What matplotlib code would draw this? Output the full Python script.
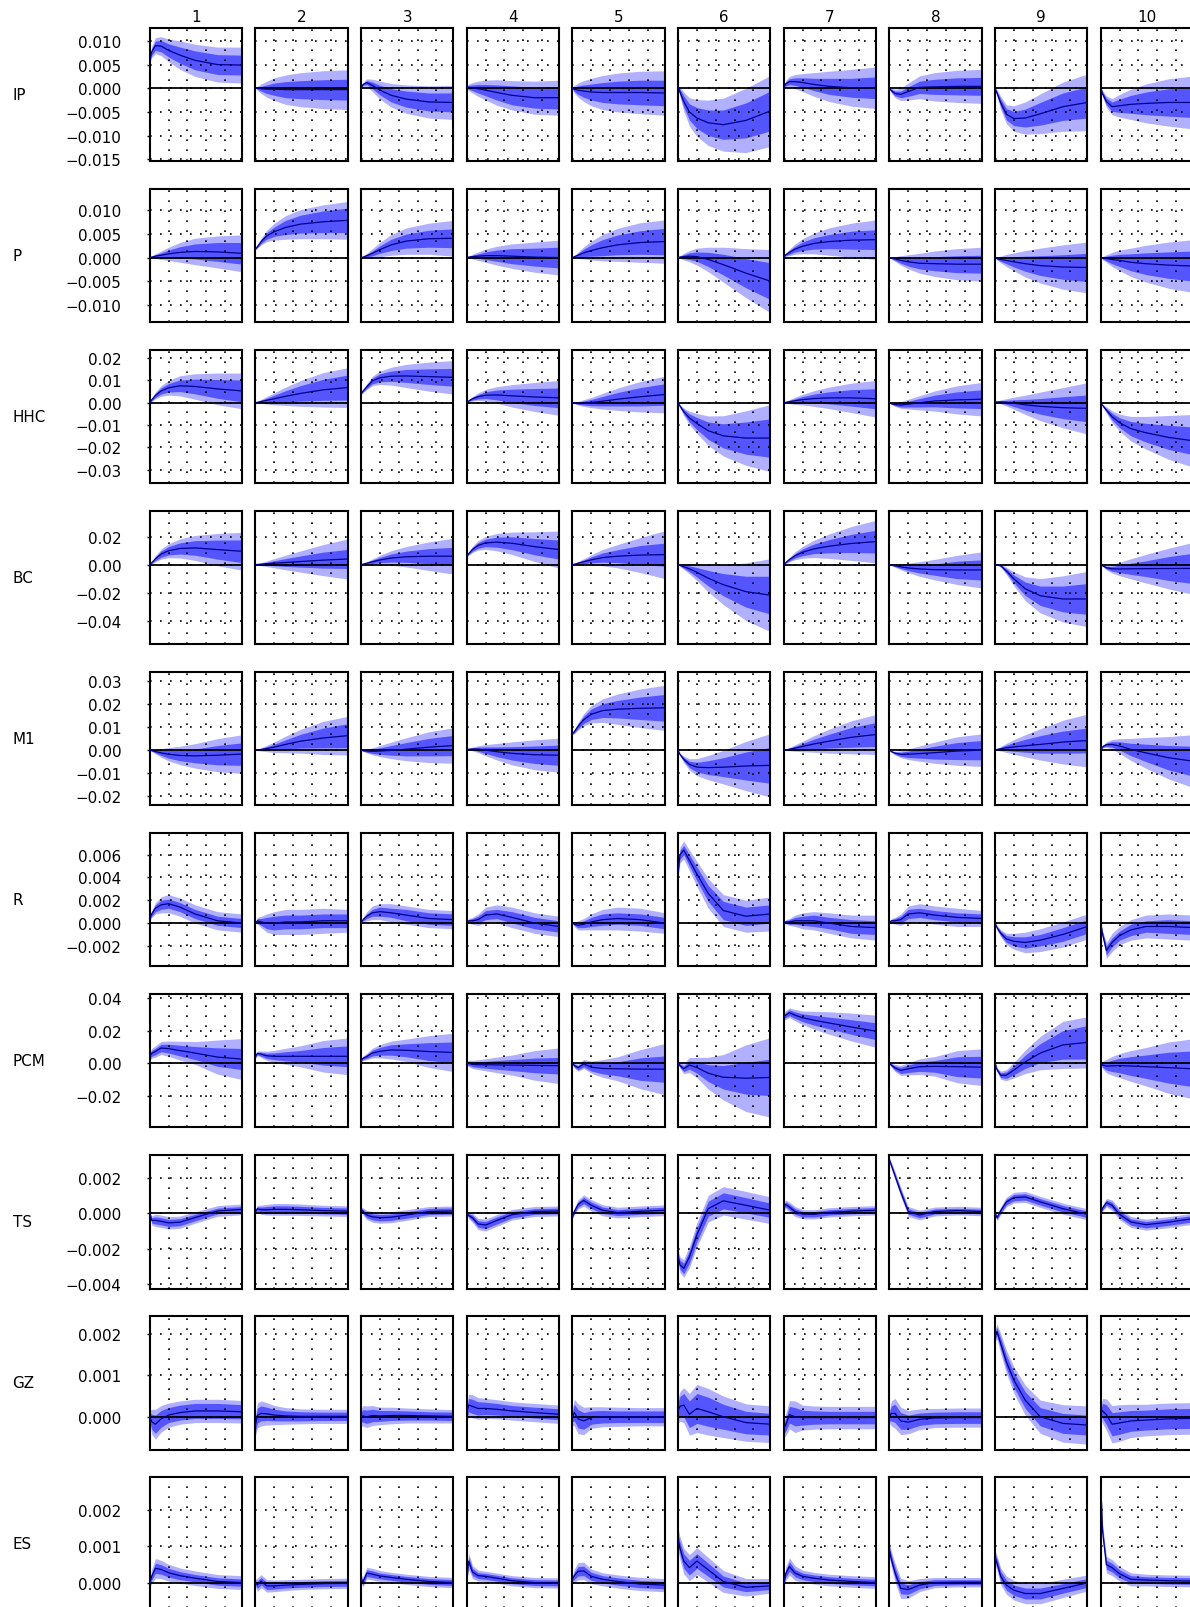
import matplotlib
matplotlib.use('Agg')
import matplotlib.pyplot as plt

HORIZON = [0, 1, 3, 6, 10, 16, 24, 36, 49]
SHOCKS = ['1', '2', '3', '4', '5', '6', '7', '8', '9', '10']
VARIABLES = ['IP', 'P', 'HHC', 'BC', 'M1', 'R', 'PCM', 'TS', 'GZ', 'ES']

# ---- IP ----
IP_MED = [
    [0.0059, 0.0077, 0.009, 0.0089, 0.008, 0.007, 0.0059, 0.005, 0.0049],
    [0, 0, -0.0001, -0.0002, -0.0002, -0.0003, -0.0003, -0.0003, -0.0003],
    [0, 0.0008, 0.0012, 0.0006, -0.0004, -0.0015, -0.0023, -0.0029, -0.003],
    [0.0002, 0.0002, 0.0001, -0.0001, -0.0004, -0.0009, -0.0015, -0.002, -0.002],
    [0, -0.0002, -0.0004, -0.0006, -0.0008, -0.0009, -0.0009, -0.0009, -0.001],
    [0.0002, -0.0008, -0.0028, -0.005, -0.0063, -0.0073, -0.0077, -0.0068, -0.0048],
    [0.0003, 0.0009, 0.0014, 0.0014, 0.0012, 0.0008, 0.0004, 0.0001, 0.0001],
    [0, -0.0005, -0.0011, -0.0013, -0.0007, 0.0002, 0.0003, 0.0004, 0.0004],
    [0, -0.001, -0.0031, -0.0055, -0.0064, -0.0063, -0.0054, -0.0039, -0.003],
    [0, -0.0012, -0.0028, -0.0039, -0.0037, -0.0034, -0.0032, -0.003, -0.003],
]
IP_W68 = [
    [0.0003, 0.0007, 0.001, 0.0012, 0.0014, 0.0017, 0.002, 0.0021, 0.0021],
    [0, 0.0002, 0.0005, 0.0009, 0.0013, 0.0017, 0.0019, 0.0021, 0.0022],
    [0, 0.0002, 0.0004, 0.0007, 0.001, 0.0014, 0.0017, 0.0019, 0.002],
    [0.0002, 0.0004, 0.0006, 0.0009, 0.0012, 0.0016, 0.002, 0.0022, 0.0024],
    [0.0001, 0.0005, 0.0009, 0.0013, 0.0017, 0.0021, 0.0024, 0.0026, 0.0027],
    [0.0002, 0.0006, 0.0012, 0.0017, 0.0022, 0.0027, 0.0031, 0.0037, 0.0042],
    [0.0002, 0.0004, 0.0006, 0.0008, 0.001, 0.0013, 0.0017, 0.002, 0.0023],
    [0.0001, 0.0003, 0.0005, 0.0007, 0.001, 0.0013, 0.0016, 0.0018, 0.0019],
    [0.0001, 0.0004, 0.0008, 0.0012, 0.0015, 0.0019, 0.0024, 0.0029, 0.0033],
    [0.0001, 0.0004, 0.0007, 0.001, 0.0014, 0.0019, 0.0024, 0.0029, 0.0032],
]
IP_W90 = [
    [0.0005, 0.0012, 0.0017, 0.002, 0.0024, 0.003, 0.0034, 0.0037, 0.0038],
    [0, 0.0004, 0.001, 0.0017, 0.0024, 0.0031, 0.0036, 0.004, 0.0042],
    [0, 0.0004, 0.0008, 0.0013, 0.0019, 0.0025, 0.003, 0.0034, 0.0036],
    [0.0003, 0.0007, 0.0011, 0.0016, 0.0021, 0.0027, 0.0031, 0.0035, 0.0037],
    [0.0002, 0.0008, 0.0015, 0.0022, 0.0029, 0.0036, 0.0041, 0.0045, 0.0047],
    [0.0003, 0.001, 0.002, 0.003, 0.0039, 0.0048, 0.0056, 0.0068, 0.0075],
    [0.0003, 0.0007, 0.0011, 0.0015, 0.0019, 0.0025, 0.0032, 0.0039, 0.0044],
    [0.0002, 0.0005, 0.0009, 0.0013, 0.0018, 0.0024, 0.003, 0.0034, 0.0036],
    [0.0002, 0.0007, 0.0014, 0.002, 0.0027, 0.0034, 0.0042, 0.0052, 0.006],
    [0.0002, 0.0007, 0.0012, 0.0017, 0.0024, 0.0032, 0.0041, 0.005, 0.0056],
]

# ---- P ----
P_MED = [
    [0, 0.0001, 0.0003, 0.0005, 0.0008, 0.0011, 0.0013, 0.0012, 0.0009],
    [0.0018, 0.0023, 0.0034, 0.0046, 0.0055, 0.0064, 0.0071, 0.0076, 0.0079],
    [0, 0.0001, 0.0004, 0.0009, 0.0017, 0.0027, 0.0035, 0.004, 0.0041],
    [0, 0.0001, 0.0002, 0.0003, 0.0004, 0.0004, 0.0003, 0.0001, 0],
    [0, 0.0002, 0.0005, 0.001, 0.0015, 0.0021, 0.0027, 0.0032, 0.0034],
    [0, 0.0001, 0.0002, 0.0003, 0.0002, -0.0004, -0.0015, -0.0033, -0.005],
    [0, 0.0006, 0.0011, 0.0018, 0.0024, 0.003, 0.0034, 0.0037, 0.0038],
    [0, -0.0001, -0.0003, -0.0006, -0.0009, -0.0012, -0.0013, -0.0014, -0.0014],
    [0, -0.0002, -0.0004, -0.0006, -0.0009, -0.0013, -0.0017, -0.002, -0.0021],
    [0, -0.0001, -0.0002, -0.0004, -0.0006, -0.001, -0.0013, -0.0016, -0.0018],
]
P_W68 = [
    [0, 0.0001, 0.0003, 0.0005, 0.0008, 0.0012, 0.0016, 0.002, 0.0023],
    [0.0001, 0.0002, 0.0004, 0.0007, 0.001, 0.0015, 0.0019, 0.0023, 0.0026],
    [0, 0.0001, 0.0003, 0.0005, 0.0008, 0.0012, 0.0015, 0.0018, 0.002],
    [0, 0.0001, 0.0003, 0.0005, 0.0008, 0.0012, 0.0016, 0.0019, 0.0022],
    [0, 0.0001, 0.0004, 0.0008, 0.0012, 0.0017, 0.0021, 0.0025, 0.0028],
    [0, 0.0002, 0.0004, 0.0007, 0.001, 0.0015, 0.0022, 0.0031, 0.0039],
    [0, 0.0002, 0.0004, 0.0006, 0.0009, 0.0012, 0.0015, 0.0019, 0.0021],
    [0, 0.0001, 0.0003, 0.0006, 0.0009, 0.0012, 0.0015, 0.0018, 0.0019],
    [0, 0.0002, 0.0004, 0.0007, 0.0011, 0.0016, 0.0021, 0.0026, 0.003],
    [0, 0.0002, 0.0005, 0.0009, 0.0013, 0.0018, 0.0023, 0.0028, 0.0032],
]
P_W90 = [
    [0, 0.0002, 0.0005, 0.0009, 0.0014, 0.0021, 0.0028, 0.0034, 0.0039],
    [0.0001, 0.0003, 0.0007, 0.0012, 0.0018, 0.0025, 0.0031, 0.0036, 0.004],
    [0, 0.0002, 0.0005, 0.001, 0.0015, 0.0022, 0.0028, 0.0033, 0.0038],
    [0, 0.0002, 0.0005, 0.0009, 0.0014, 0.002, 0.0026, 0.0032, 0.0037],
    [0, 0.0002, 0.0007, 0.0013, 0.002, 0.0028, 0.0035, 0.0042, 0.0046],
    [0, 0.0003, 0.0007, 0.0012, 0.0018, 0.0026, 0.0037, 0.0052, 0.0067],
    [0, 0.0003, 0.0007, 0.0011, 0.0016, 0.0022, 0.0029, 0.0036, 0.0042],
    [0, 0.0002, 0.0005, 0.001, 0.0015, 0.0021, 0.0027, 0.0033, 0.0036],
    [0, 0.0003, 0.0007, 0.0013, 0.0019, 0.0028, 0.0037, 0.0047, 0.0054],
    [0, 0.0003, 0.0008, 0.0015, 0.0022, 0.003, 0.0039, 0.0049, 0.0056],
]

# ---- HHC ----
HHC_MED = [
    [0, 0.0013, 0.0033, 0.0053, 0.0067, 0.0076, 0.0073, 0.0062, 0.0053],
    [0, 0.0002, 0.0006, 0.0011, 0.0018, 0.0029, 0.0042, 0.0058, 0.0068],
    [0.004, 0.0052, 0.0072, 0.0098, 0.0112, 0.0119, 0.012, 0.0117, 0.0114],
    [0, 0.0008, 0.0018, 0.0027, 0.0034, 0.0035, 0.0031, 0.0026, 0.0022],
    [0, -0.0001, -0.0002, -0.0001, 0.0001, 0.0007, 0.0016, 0.0027, 0.0037],
    [0, -0.0015, -0.004, -0.0068, -0.0093, -0.0125, -0.0148, -0.0158, -0.0158],
    [0, 0.0002, 0.0005, 0.0009, 0.0014, 0.0019, 0.0022, 0.0022, 0.0018],
    [0, -0.0004, -0.0008, -0.001, -0.0006, 0, 0.0008, 0.0013, 0.0016],
    [0.0003, 0.0004, 0.0004, 0.0002, -0.0002, -0.0009, -0.0016, -0.0022, -0.0025],
    [0, -0.0012, -0.0033, -0.0062, -0.0089, -0.0116, -0.0134, -0.0155, -0.017],
]
HHC_W68 = [
    [0, 0.0004, 0.0009, 0.0014, 0.0019, 0.0026, 0.0033, 0.0042, 0.0049],
    [0, 0.0002, 0.0005, 0.001, 0.0016, 0.0025, 0.0035, 0.0047, 0.0056],
    [0.0002, 0.0004, 0.0008, 0.0013, 0.0018, 0.0023, 0.0029, 0.0035, 0.004],
    [0, 0.0002, 0.0006, 0.001, 0.0015, 0.0022, 0.003, 0.0038, 0.0044],
    [0, 0.0002, 0.0005, 0.0009, 0.0014, 0.0021, 0.003, 0.0041, 0.0048],
    [0, 0.0004, 0.001, 0.0018, 0.0027, 0.0039, 0.0054, 0.0072, 0.0086],
    [0, 0.0002, 0.0005, 0.0009, 0.0014, 0.002, 0.0027, 0.0037, 0.0045],
    [0, 0.0002, 0.0005, 0.0009, 0.0013, 0.0019, 0.0026, 0.0036, 0.0042],
    [0.0001, 0.0002, 0.0005, 0.0009, 0.0015, 0.0024, 0.0035, 0.0049, 0.006],
    [0, 0.0003, 0.0008, 0.0015, 0.0022, 0.0032, 0.0042, 0.0054, 0.0062],
]
HHC_W90 = [
    [0, 0.0007, 0.0015, 0.0024, 0.0033, 0.0045, 0.0057, 0.0071, 0.008],
    [0, 0.0003, 0.0009, 0.0017, 0.0027, 0.0041, 0.0058, 0.0077, 0.0089],
    [0.0003, 0.0007, 0.0013, 0.0021, 0.003, 0.004, 0.0052, 0.0065, 0.0075],
    [0, 0.0004, 0.001, 0.0017, 0.0026, 0.0037, 0.005, 0.0065, 0.0078],
    [0, 0.0003, 0.0008, 0.0015, 0.0023, 0.0035, 0.005, 0.0068, 0.0082],
    [0, 0.0007, 0.0017, 0.003, 0.0045, 0.0066, 0.009, 0.0122, 0.015],
    [0, 0.0003, 0.0009, 0.0016, 0.0024, 0.0035, 0.0048, 0.0066, 0.0082],
    [0, 0.0003, 0.0008, 0.0015, 0.0022, 0.0032, 0.0045, 0.0063, 0.0075],
    [0.0002, 0.0004, 0.0009, 0.0016, 0.0027, 0.0043, 0.0064, 0.009, 0.0115],
    [0, 0.0005, 0.0014, 0.0026, 0.0038, 0.0055, 0.0073, 0.0098, 0.0118],
]

# ---- BC ----
BC_MED = [
    [0, 0.0013, 0.0042, 0.0075, 0.0099, 0.0115, 0.0119, 0.0107, 0.0095],
    [0, 0.0001, 0.0003, 0.0006, 0.001, 0.0015, 0.0022, 0.0032, 0.004],
    [0, 0.0003, 0.001, 0.002, 0.0033, 0.0047, 0.0056, 0.006, 0.006],
    [0.006, 0.0078, 0.0108, 0.0137, 0.0155, 0.016, 0.0152, 0.0128, 0.0107],
    [0, 0.0003, 0.001, 0.002, 0.0034, 0.005, 0.006, 0.0068, 0.0071],
    [0, -0.0005, -0.0015, -0.003, -0.0055, -0.0097, -0.0143, -0.0193, -0.0218],
    [0, 0.0014, 0.0036, 0.0063, 0.0088, 0.0112, 0.0131, 0.0151, 0.0164],
    [0, -0.0003, -0.0008, -0.0016, -0.0024, -0.0031, -0.0036, -0.0038, -0.0038],
    [0, 0, -0.0008, -0.0045, -0.0102, -0.0172, -0.0222, -0.0245, -0.0245],
    [0, -0.0008, -0.0022, -0.003, -0.0031, -0.003, -0.0029, -0.0028, -0.0027],
]
BC_W68 = [
    [0, 0.0005, 0.0013, 0.0022, 0.003, 0.004, 0.0052, 0.0068, 0.0081],
    [0, 0.0002, 0.0006, 0.0011, 0.0018, 0.0028, 0.004, 0.0057, 0.0068],
    [0, 0.0002, 0.0006, 0.0012, 0.0019, 0.0029, 0.004, 0.0054, 0.0063],
    [0.0003, 0.0007, 0.0013, 0.002, 0.0027, 0.0036, 0.0046, 0.0058, 0.0068],
    [0, 0.0002, 0.0007, 0.0013, 0.0021, 0.0033, 0.0046, 0.0068, 0.0082],
    [0, 0.0004, 0.0011, 0.0021, 0.0034, 0.0055, 0.0079, 0.011, 0.0135],
    [0, 0.0004, 0.0009, 0.0016, 0.0024, 0.0034, 0.0047, 0.0065, 0.0081],
    [0, 0.0002, 0.0006, 0.0012, 0.0019, 0.0029, 0.004, 0.0062, 0.0072],
    [0, 0.0002, 0.0006, 0.0015, 0.0028, 0.0048, 0.0069, 0.0092, 0.011],
    [0, 0.0003, 0.0009, 0.0017, 0.0027, 0.004, 0.0056, 0.0085, 0.0108],
]
BC_W90 = [
    [0, 0.0008, 0.0022, 0.0036, 0.005, 0.0068, 0.0089, 0.0115, 0.0135],
    [0, 0.0004, 0.0011, 0.002, 0.0033, 0.0052, 0.0076, 0.0111, 0.0143],
    [0, 0.0004, 0.0011, 0.0021, 0.0034, 0.0052, 0.0073, 0.0102, 0.0128],
    [0.0005, 0.0012, 0.0022, 0.0034, 0.0046, 0.0062, 0.008, 0.0106, 0.0132],
    [0, 0.0004, 0.0012, 0.0022, 0.0036, 0.0058, 0.0083, 0.0125, 0.017],
    [0, 0.0007, 0.0019, 0.0036, 0.006, 0.0098, 0.0142, 0.0205, 0.026],
    [0, 0.0007, 0.0016, 0.0028, 0.0042, 0.0062, 0.0087, 0.0121, 0.0152],
    [0, 0.0004, 0.0011, 0.0021, 0.0034, 0.0052, 0.0073, 0.0104, 0.0129],
    [0, 0.0003, 0.001, 0.0026, 0.005, 0.0085, 0.0122, 0.0165, 0.0197],
    [0, 0.0005, 0.0016, 0.003, 0.0048, 0.0072, 0.0102, 0.0145, 0.0185],
]

# ---- M1 ----
M1_MED = [
    [0, -0.0002, -0.0006, -0.0012, -0.0018, -0.0023, -0.0025, -0.0022, -0.0017],
    [0, 0.0001, 0.0003, 0.0007, 0.0013, 0.0025, 0.0039, 0.0053, 0.0063],
    [0, -0.0002, -0.0004, -0.0005, -0.0004, -0.0001, 0.0004, 0.0013, 0.002],
    [0, 0.0004, 0.0005, 0.0004, 0, -0.0007, -0.0014, -0.002, -0.0022],
    [0.0072, 0.008, 0.0104, 0.0132, 0.0156, 0.0172, 0.0178, 0.0182, 0.0184],
    [0, -0.0019, -0.004, -0.0062, -0.0074, -0.0076, -0.0074, -0.0069, -0.0066],
    [0, 0.0001, 0.0004, 0.0009, 0.0016, 0.0027, 0.0039, 0.0056, 0.0068],
    [0, -0.0006, -0.0013, -0.0018, -0.0018, -0.0015, -0.0011, -0.0004, 0],
    [0, 0.0003, 0.0006, 0.001, 0.0014, 0.0019, 0.0025, 0.0035, 0.0042],
    [0, 0.0015, 0.0024, 0.0025, 0.0018, 0.0003, -0.0012, -0.0033, -0.0048],
]
M1_W68 = [
    [0, 0.0002, 0.0006, 0.0011, 0.0017, 0.0023, 0.003, 0.0042, 0.0049],
    [0, 0.0002, 0.0004, 0.0008, 0.0013, 0.002, 0.003, 0.0043, 0.0052],
    [0, 0.0002, 0.0005, 0.0009, 0.0014, 0.0021, 0.0029, 0.0038, 0.0044],
    [0, 0.0002, 0.0005, 0.0009, 0.0014, 0.0021, 0.0029, 0.0038, 0.0044],
    [0.0002, 0.0005, 0.001, 0.0016, 0.0023, 0.003, 0.0038, 0.0049, 0.0058],
    [0, 0.0003, 0.0008, 0.0014, 0.0021, 0.003, 0.0041, 0.0061, 0.0078],
    [0, 0.0002, 0.0004, 0.0008, 0.0013, 0.0021, 0.003, 0.0043, 0.0052],
    [0, 0.0002, 0.0005, 0.0009, 0.0014, 0.002, 0.0028, 0.0037, 0.0042],
    [0, 0.0002, 0.0006, 0.0012, 0.0019, 0.0028, 0.0038, 0.0048, 0.0054],
    [0, 0.0003, 0.0007, 0.0012, 0.0018, 0.0027, 0.0038, 0.0053, 0.0065],
]
M1_W90 = [
    [0, 0.0004, 0.001, 0.0019, 0.0029, 0.004, 0.0053, 0.0072, 0.0084],
    [0, 0.0003, 0.0007, 0.0014, 0.0023, 0.0036, 0.0052, 0.0072, 0.0084],
    [0, 0.0003, 0.0008, 0.0015, 0.0024, 0.0036, 0.005, 0.0067, 0.0077],
    [0, 0.0003, 0.0008, 0.0015, 0.0024, 0.0036, 0.005, 0.0065, 0.0074],
    [0.0004, 0.0009, 0.0017, 0.0027, 0.0038, 0.0051, 0.0066, 0.0084, 0.0098],
    [0, 0.0005, 0.0014, 0.0025, 0.0037, 0.0053, 0.0073, 0.0107, 0.0138],
    [0, 0.0003, 0.0007, 0.0014, 0.0023, 0.0036, 0.0052, 0.0072, 0.0087],
    [0, 0.0003, 0.0008, 0.0015, 0.0023, 0.0033, 0.0046, 0.0062, 0.0071],
    [0, 0.0004, 0.001, 0.002, 0.0032, 0.0048, 0.0068, 0.0095, 0.0115],
    [0, 0.0005, 0.0012, 0.0021, 0.0032, 0.0048, 0.0067, 0.0092, 0.0115],
]

# ---- R ----
R_MED = [
    [0.0004, 0.0008, 0.0013, 0.0016, 0.0017, 0.0014, 0.0008, 0.0002, 0],
    [0, 0.0002, 0.0001, 0, 0, 0.0001, 0.0001, 0.0002, 0.0002],
    [0, 0.0003, 0.0006, 0.0009, 0.001, 0.0009, 0.0007, 0.0004, 0.0003],
    [0, 0.0002, 0.0002, 0.0003, 0.0007, 0.0008, 0.0005, 0, -0.0003],
    [0, -0.0001, -0.0002, -0.0001, 0.0001, 0.0003, 0.0004, 0.0003, 0],
    [0.0045, 0.006, 0.0064, 0.0055, 0.0043, 0.0026, 0.0011, 0.0006, 0.0008],
    [0, 0.0001, 0.0001, 0.0002, 0.0002, 0.0002, 0, -0.0003, -0.0004],
    [0, 0.0002, 0.0002, 0.0003, 0.0008, 0.0009, 0.0007, 0.0005, 0.0004],
    [0, -0.0004, -0.0009, -0.0014, -0.0016, -0.0017, -0.0015, -0.001, -0.0003],
    [0, -0.001, -0.0024, -0.0017, -0.0011, -0.0006, -0.0003, -0.0003, -0.0004],
]
R_W68 = [
    [0.0001, 0.0002, 0.0003, 0.0004, 0.0004, 0.0004, 0.0004, 0.0004, 0.0004],
    [0, 0.0002, 0.0003, 0.0005, 0.0006, 0.0006, 0.0006, 0.0006, 0.0006],
    [0, 0.0001, 0.0002, 0.0003, 0.0004, 0.0004, 0.0005, 0.0005, 0.0005],
    [0, 0.0001, 0.0002, 0.0003, 0.0004, 0.0004, 0.0005, 0.0005, 0.0005],
    [0, 0.0001, 0.0002, 0.0003, 0.0004, 0.0005, 0.0005, 0.0005, 0.0005],
    [0.0003, 0.0004, 0.0004, 0.0005, 0.0006, 0.0007, 0.0008, 0.0008, 0.0008],
    [0, 0.0001, 0.0002, 0.0003, 0.0004, 0.0005, 0.0005, 0.0006, 0.0006],
    [0, 0.0001, 0.0002, 0.0003, 0.0004, 0.0004, 0.0004, 0.0004, 0.0004],
    [0, 0.0001, 0.0002, 0.0003, 0.0004, 0.0005, 0.0005, 0.0006, 0.0006],
    [0, 0.0002, 0.0004, 0.0004, 0.0004, 0.0005, 0.0005, 0.0006, 0.0006],
]
R_W90 = [
    [0.0002, 0.0003, 0.0005, 0.0007, 0.0008, 0.0008, 0.0008, 0.0008, 0.0008],
    [0, 0.0003, 0.0005, 0.0008, 0.001, 0.0011, 0.0011, 0.0011, 0.001],
    [0, 0.0002, 0.0004, 0.0006, 0.0007, 0.0008, 0.0008, 0.0008, 0.0008],
    [0, 0.0002, 0.0003, 0.0005, 0.0007, 0.0008, 0.0009, 0.0009, 0.0009],
    [0, 0.0002, 0.0004, 0.0005, 0.0007, 0.0009, 0.001, 0.001, 0.0009],
    [0.0005, 0.0007, 0.0008, 0.0009, 0.0011, 0.0013, 0.0014, 0.0014, 0.0015],
    [0, 0.0002, 0.0003, 0.0005, 0.0007, 0.0008, 0.0009, 0.001, 0.0011],
    [0, 0.0002, 0.0003, 0.0005, 0.0007, 0.0008, 0.0008, 0.0008, 0.0007],
    [0, 0.0002, 0.0003, 0.0005, 0.0007, 0.0009, 0.001, 0.0011, 0.0011],
    [0, 0.0003, 0.0007, 0.0008, 0.0008, 0.0009, 0.001, 0.0011, 0.0011],
]

# ---- PCM ----
PCM_MED = [
    [0.0042, 0.006, 0.0072, 0.0093, 0.0089, 0.0077, 0.0062, 0.0037, 0.0025],
    [0.004, 0.006, 0.0055, 0.0045, 0.0042, 0.0042, 0.0042, 0.0042, 0.0042],
    [0.0015, 0.003, 0.0041, 0.0062, 0.0073, 0.0081, 0.0079, 0.0071, 0.0066],
    [0, -0.0002, -0.0008, -0.001, -0.001, -0.0011, -0.0012, -0.0014, -0.0016],
    [0, -0.0015, -0.0028, -0.0005, -0.0025, -0.0033, -0.0035, -0.0037, -0.0037],
    [0, -0.0015, -0.0035, -0.0012, -0.0027, -0.0062, -0.0087, -0.0093, -0.0088],
    [0.0285, 0.0295, 0.031, 0.0295, 0.0279, 0.0264, 0.0247, 0.0222, 0.0196],
    [0, -0.0012, -0.003, -0.0045, -0.0035, -0.0022, -0.002, -0.0022, -0.0025],
    [0, -0.004, -0.0075, -0.0074, -0.0043, 0.0008, 0.0062, 0.0112, 0.0128],
    [0, -0.0012, -0.0018, -0.0017, -0.0015, -0.0018, -0.0022, -0.0028, -0.0035],
]
PCM_W68 = [
    [0.0015, 0.0018, 0.002, 0.0023, 0.0027, 0.0033, 0.004, 0.0057, 0.0065],
    [0.0005, 0.0008, 0.0012, 0.0016, 0.0021, 0.0028, 0.0036, 0.0054, 0.0064],
    [0.0005, 0.0008, 0.0012, 0.0018, 0.0024, 0.0032, 0.004, 0.0055, 0.0064],
    [0.0008, 0.0012, 0.0014, 0.0017, 0.0021, 0.0027, 0.0034, 0.0045, 0.0051],
    [0.0005, 0.0009, 0.0013, 0.0018, 0.0024, 0.0033, 0.0043, 0.0069, 0.0081],
    [0.0005, 0.001, 0.0017, 0.0025, 0.0035, 0.0052, 0.0072, 0.0098, 0.0112],
    [0.0012, 0.0015, 0.0018, 0.002, 0.0024, 0.003, 0.0036, 0.0045, 0.0052],
    [0.0004, 0.0008, 0.0013, 0.0019, 0.0023, 0.0029, 0.0036, 0.0061, 0.0067],
    [0.0003, 0.0008, 0.0015, 0.002, 0.0028, 0.0041, 0.0058, 0.0088, 0.0103],
    [0.0005, 0.0014, 0.0025, 0.0035, 0.0045, 0.0058, 0.0072, 0.0095, 0.011],
]
PCM_W90 = [
    [0.0025, 0.003, 0.0035, 0.004, 0.0047, 0.0058, 0.007, 0.0105, 0.0126],
    [0.001, 0.0014, 0.002, 0.0028, 0.0037, 0.0049, 0.0065, 0.0097, 0.0113],
    [0.0008, 0.0013, 0.002, 0.003, 0.0041, 0.0055, 0.0069, 0.0098, 0.0118],
    [0.0013, 0.002, 0.0025, 0.003, 0.0037, 0.0048, 0.0062, 0.0091, 0.011],
    [0.0009, 0.0016, 0.0022, 0.0028, 0.0038, 0.0054, 0.0074, 0.012, 0.0158],
    [0.0008, 0.0017, 0.003, 0.0046, 0.0063, 0.0098, 0.014, 0.0205, 0.0245],
    [0.0022, 0.0026, 0.003, 0.0035, 0.0042, 0.0055, 0.0069, 0.0086, 0.0099],
    [0.0007, 0.0013, 0.0022, 0.0031, 0.0038, 0.0048, 0.006, 0.0099, 0.0113],
    [0.0005, 0.0013, 0.0025, 0.0034, 0.0048, 0.0072, 0.0103, 0.0145, 0.0158],
    [0.0008, 0.0023, 0.0042, 0.0058, 0.0074, 0.0095, 0.0118, 0.0158, 0.0185],
]

# ---- TS ----
TS_MED = [
    [0, -0.0004, -0.0004, -0.00045, -0.00054, -0.0005, -0.00024, 0.00013, 0.00022],
    [0.0001, 0.00025, 0.0002, 0.0002, 0.00022, 0.00022, 0.0002, 0.00015, 0.00012],
    [0.0002, 0.0001, -0.0001, -0.0002, -0.00025, -0.00022, -0.0001, 0.0001, 0.00013],
    [0, -0.00012, -0.00025, -0.0006, -0.00066, -0.0004, -0.00008, 0.0001, 0.00013],
    [-0.0002, 0.0001, 0.0005, 0.00072, 0.00045, 0.00017, 0.00004, 0.00011, 0.00017],
    [-0.00245, -0.0029, -0.0031, -0.00245, -0.0012, 0.00026, 0.0007, 0.00045, 0.00017],
    [0.0004, 0.0005, 0.00035, 0.0001, -0.00005, -0.00006, 0.00005, 0.00012, 0.00017],
    [0.003, 0.0027, 0.0021, 0.0012, 0.0001, -0.0001, 0.0001, 0.00015, 0.0001],
    [0, -0.00025, 0.00015, 0.00064, 0.00088, 0.00092, 0.00064, 0.00026, -0.00006],
    [0, 0.0003, 0.0006, 0.00045, -0.00006, -0.00049, -0.00064, -0.0005, -0.0003],
]
TS_W68 = [
    [0.00005, 0.00015, 0.0002, 0.0002, 0.0002, 0.0002, 0.00018, 0.00016, 0.00016],
    [0.00008, 0.00012, 0.00015, 0.00018, 0.0002, 0.0002, 0.00019, 0.00018, 0.00018],
    [0.0001, 0.00012, 0.00015, 0.00017, 0.00018, 0.00018, 0.00018, 0.00017, 0.00017],
    [0.00005, 0.0001, 0.00015, 0.00018, 0.0002, 0.0002, 0.00018, 0.00016, 0.00016],
    [0.00006, 0.0001, 0.00015, 0.00018, 0.00018, 0.00018, 0.00017, 0.00017, 0.00017],
    [0.0002, 0.00025, 0.0003, 0.00035, 0.0004, 0.00042, 0.00045, 0.00043, 0.0004],
    [0.0001, 0.00014, 0.00016, 0.00016, 0.00015, 0.00015, 0.00015, 0.00015, 0.00015],
    [0.00008, 0.0001, 0.00013, 0.00015, 0.00015, 0.00015, 0.00014, 0.00013, 0.00013],
    [0.00005, 0.0001, 0.00013, 0.00016, 0.00018, 0.00018, 0.00018, 0.00018, 0.00018],
    [0.00005, 0.0001, 0.00014, 0.00017, 0.00018, 0.00018, 0.00018, 0.00018, 0.00018],
]
TS_W90 = [
    [0.0001, 0.00025, 0.00035, 0.00035, 0.00035, 0.00034, 0.00032, 0.0003, 0.0003],
    [0.00014, 0.0002, 0.00026, 0.0003, 0.00033, 0.00033, 0.00032, 0.0003, 0.0003],
    [0.00015, 0.0002, 0.00026, 0.0003, 0.00031, 0.00031, 0.0003, 0.00028, 0.00028],
    [0.0001, 0.00018, 0.00026, 0.00032, 0.00034, 0.00033, 0.0003, 0.00028, 0.00028],
    [0.0001, 0.00018, 0.00026, 0.00032, 0.00032, 0.00031, 0.0003, 0.0003, 0.0003],
    [0.0004, 0.00045, 0.0005, 0.0006, 0.00068, 0.00075, 0.0008, 0.00078, 0.00075],
    [0.00018, 0.00025, 0.00028, 0.00028, 0.00026, 0.00026, 0.00026, 0.00026, 0.00026],
    [0.00014, 0.00018, 0.00023, 0.00027, 0.00028, 0.00027, 0.00025, 0.00024, 0.00024],
    [0.0001, 0.00016, 0.00022, 0.00027, 0.0003, 0.00031, 0.00031, 0.00031, 0.00031],
    [0.0001, 0.00017, 0.00024, 0.0003, 0.00031, 0.00031, 0.00031, 0.00031, 0.00031],
]

# ---- GZ ----
GZ_MED = [
    [0, -0.00012, -0.00018, -0.00005, 0.00004, 0.0001, 0.00014, 0.00014, 0.00012],
    [-0.0002, 0.00003, 0.00008, 0.00007, 0.00004, 0.00002, 0.00001, 0.00001, 0.00001],
    [0, 0.00002, 0, 0.00003, 0.00002, 0.00003, 0.00003, 0.00002, 0.00001],
    [0.0001, 0.00028, 0.00025, 0.0002, 0.0002, 0.00018, 0.00014, 0.0001, 0.00006],
    [0, 0.0001, -0.00005, -0.0001, -0.00002, 0, 0, 0, 0],
    [0.00015, 0.00025, 0.00028, 0.00006, 0.0002, 0.00012, 0, -0.00014, -0.00018],
    [-0.0003, -0.0002, 0.00005, 0, -0.00002, -0.00002, -0.00002, -0.00002, -0.00002],
    [0, 0.00008, 0.00008, -0.0001, -0.00013, -0.00006, -0.00003, -0.00002, -0.00002],
    [0.00195, 0.00205, 0.00176, 0.00132, 0.00088, 0.0004, 0, -0.00016, -0.0002],
    [0.0001, 0.00014, 0.00005, -0.00018, -0.00015, -0.0001, -0.00008, -0.00005, -0.00004],
]
GZ_W68 = [
    [0.0001, 0.00018, 0.00022, 0.0002, 0.00018, 0.00018, 0.00018, 0.00018, 0.00017],
    [0.00015, 0.00018, 0.00018, 0.00016, 0.00014, 0.00012, 0.00011, 0.0001, 0.0001],
    [0.00012, 0.00015, 0.00016, 0.00015, 0.00013, 0.00012, 0.00011, 0.0001, 0.0001],
    [0.00012, 0.00016, 0.00017, 0.00016, 0.00015, 0.00014, 0.00013, 0.00013, 0.00013],
    [0.00012, 0.0002, 0.00022, 0.0002, 0.00016, 0.00015, 0.00014, 0.00014, 0.00014],
    [0.0002, 0.00024, 0.00028, 0.00032, 0.00036, 0.00035, 0.0003, 0.00027, 0.00026],
    [0.0001, 0.00015, 0.0002, 0.00022, 0.00018, 0.00016, 0.00015, 0.00015, 0.00015],
    [0.0001, 0.00018, 0.00022, 0.0002, 0.00017, 0.00015, 0.00014, 0.00014, 0.00014],
    [0.00008, 0.0001, 0.00013, 0.00016, 0.00018, 0.0002, 0.00022, 0.00024, 0.00024],
    [0.0001, 0.00018, 0.00024, 0.00028, 0.00027, 0.00025, 0.00024, 0.00024, 0.00024],
]
GZ_W90 = [
    [0.00015, 0.0003, 0.00036, 0.00032, 0.00029, 0.00028, 0.00028, 0.00028, 0.00027],
    [0.00025, 0.0003, 0.0003, 0.00027, 0.00023, 0.0002, 0.00018, 0.00017, 0.00017],
    [0.0002, 0.00025, 0.00026, 0.00024, 0.00021, 0.0002, 0.00018, 0.00017, 0.00016],
    [0.0002, 0.00027, 0.00028, 0.00026, 0.00024, 0.00023, 0.00022, 0.00022, 0.00022],
    [0.0002, 0.00032, 0.00036, 0.00033, 0.00026, 0.00024, 0.00023, 0.00022, 0.00022],
    [0.0003, 0.00036, 0.00042, 0.0005, 0.00058, 0.00056, 0.0005, 0.00045, 0.00044],
    [0.00018, 0.00026, 0.00034, 0.00038, 0.0003, 0.00028, 0.00027, 0.00027, 0.00027],
    [0.00016, 0.0003, 0.00036, 0.00033, 0.00028, 0.00025, 0.00023, 0.00023, 0.00023],
    [0.00014, 0.00018, 0.00024, 0.00028, 0.00032, 0.00036, 0.0004, 0.00045, 0.00046],
    [0.00016, 0.0003, 0.00038, 0.00045, 0.00044, 0.0004, 0.00038, 0.00038, 0.00038],
]

# ---- ES ----
ES_MED = [
    [0, 0.00018, 0.0004, 0.00037, 0.00028, 0.0002, 0.00013, 0.00004, 0.00001],
    [0, -0.00005, 0.00005, -0.00008, -0.00008, -0.00006, -0.00004, -0.00002, -0.00001],
    [0.0001, 0.00003, 0.00027, 0.00024, 0.00019, 0.00015, 0.0001, 0.00004, 0.00001],
    [0.0001, 0.0006, 0.0003, 0.0002, 0.00018, 0.00013, 0.00006, 0.00001, 0],
    [0.0001, 0.0002, 0.00032, 0.00033, 0.00018, 0.0001, 0.00004, -0.00003, -0.00006],
    [0.0012, 0.00095, 0.0006, 0.00042, 0.0006, 0.00036, 0.00004, -0.00012, -0.00008],
    [-0.00003, 0.00025, 0.00045, 0.00027, 0.00018, 0.00013, 0.00008, 0.00004, 0.00001],
    [0.0009, 0.00065, 0.00028, -0.00015, -0.00018, -0.00006, 0.00001, 0.00002, 0.00002],
    [0.0007, 0.00055, 0.00018, -0.00006, -0.0002, -0.00029, -0.00029, -0.00015, 0],
    [0.0027, 0.0014, 0.0005, 0.00042, 0.00025, 0.0001, 0.00008, 0.00006, 0.00005],
]
ES_W68 = [
    [0.00005, 0.0001, 0.00014, 0.00013, 0.00012, 0.00011, 0.0001, 0.0001, 0.0001],
    [0.00005, 0.0001, 0.0001, 0.0001, 0.00009, 0.00008, 0.00008, 0.00008, 0.00008],
    [0.00005, 0.00008, 0.00009, 0.00009, 0.00008, 0.00008, 0.00008, 0.00008, 0.00008],
    [0.00006, 0.00012, 0.0001, 0.00008, 0.00008, 0.00008, 0.00008, 0.00008, 0.00008],
    [0.00006, 0.0001, 0.00013, 0.00013, 0.00011, 0.0001, 0.0001, 0.0001, 0.0001],
    [0.00015, 0.00017, 0.0002, 0.0002, 0.0002, 0.00018, 0.00015, 0.00012, 0.0001],
    [0.00006, 0.0001, 0.00013, 0.0001, 0.00009, 0.00009, 0.00009, 0.00009, 0.00009],
    [0.0001, 0.00012, 0.00014, 0.00015, 0.00013, 0.0001, 0.00008, 0.00007, 0.00007],
    [0.0001, 0.00012, 0.00013, 0.00014, 0.00014, 0.00015, 0.00015, 0.00013, 0.00012],
    [0.00005, 0.0001, 0.00012, 0.00012, 0.00011, 0.0001, 0.00009, 0.00009, 0.00009],
]
ES_W90 = [
    [0.0001, 0.0002, 0.00027, 0.00025, 0.00023, 0.00021, 0.0002, 0.00019, 0.00019],
    [0.0001, 0.00018, 0.00018, 0.00017, 0.00016, 0.00015, 0.00014, 0.00014, 0.00014],
    [0.0001, 0.00014, 0.00016, 0.00016, 0.00015, 0.00014, 0.00014, 0.00014, 0.00014],
    [0.0001, 0.00022, 0.00018, 0.00015, 0.00014, 0.00014, 0.00014, 0.00014, 0.00014],
    [0.0001, 0.00018, 0.00024, 0.00024, 0.0002, 0.00018, 0.00018, 0.00018, 0.00018],
    [0.0003, 0.00032, 0.00035, 0.00036, 0.00037, 0.00034, 0.0003, 0.00024, 0.0002],
    [0.0001, 0.00018, 0.00024, 0.0002, 0.00017, 0.00016, 0.00016, 0.00016, 0.00016],
    [0.0002, 0.00022, 0.00026, 0.00028, 0.00024, 0.00018, 0.00014, 0.00013, 0.00013],
    [0.00018, 0.0002, 0.00023, 0.00025, 0.00027, 0.00028, 0.00028, 0.00025, 0.00022],
    [0.0001, 0.0002, 0.00023, 0.00022, 0.0002, 0.00018, 0.00016, 0.00016, 0.00016],
]

MEDIANS = [IP_MED, P_MED, HHC_MED, BC_MED, M1_MED, R_MED, PCM_MED, TS_MED, GZ_MED, ES_MED]
BAND68 = [IP_W68, P_W68, HHC_W68, BC_W68, M1_W68, R_W68, PCM_W68, TS_W68, GZ_W68, ES_W68]
BAND90 = [IP_W90, P_W90, HHC_W90, BC_W90, M1_W90, R_W90, PCM_W90, TS_W90, GZ_W90, ES_W90]

# axis ranges and ticks of each row
YLIMS = [(-0.0154, 0.0128), (-0.0137, 0.0146), (-0.036, 0.0237), (-0.0568, 0.0383),
         (-0.024, 0.034), (-0.0038, 0.0079), (-0.0396, 0.0425), (-0.00423, 0.00327),
         (-0.00079, 0.00242), (-0.00076, 0.0029)]
YTICKS = [[-0.015, -0.010, -0.005, 0.0, 0.005, 0.010],
          [-0.010, -0.005, 0.0, 0.005, 0.010],
          [-0.03, -0.02, -0.01, 0.0, 0.01, 0.02],
          [-0.04, -0.02, 0.0, 0.02],
          [-0.02, -0.01, 0.0, 0.01, 0.02, 0.03],
          [-0.002, 0.0, 0.002, 0.004, 0.006],
          [-0.02, 0.0, 0.02, 0.04],
          [-0.004, -0.002, 0.0, 0.002],
          [0.0, 0.001, 0.002],
          [0.0, 0.001, 0.002]]
YDEC = [3, 3, 2, 2, 2, 3, 2, 3, 3, 3]

W, H = 1190, 1608
FS = 10.9
C_OUT = '#b0b0ff'
C_IN = '#5555ff'
C_MED = '#00008b'

fig = plt.figure(figsize=(W / 100, H / 100), dpi=100)

for r, var in enumerate(VARIABLES):
    top = 28.7 + r * 161.06
    for c in range(10):
        left = 149.8 + c * 105.66
        ax = fig.add_axes([left / W, 1 - (top + 133.4) / H, 92.3 / W, 133.4 / H])
        med = MEDIANS[r][c]
        w68 = BAND68[r][c]
        w90 = BAND90[r][c]
        lo90 = [m - w for m, w in zip(med, w90)]
        hi90 = [m + w for m, w in zip(med, w90)]
        lo68 = [m - w for m, w in zip(med, w68)]
        hi68 = [m + w for m, w in zip(med, w68)]
        ax.fill_between(HORIZON, lo90, hi90, color=C_OUT, lw=0, zorder=1)
        ax.fill_between(HORIZON, lo68, hi68, color=C_IN, lw=0, zorder=1.5)
        ax.axhline(0, color='black', lw=1.3, zorder=3)
        ax.plot(HORIZON, med, color=C_MED, lw=0.9, zorder=4)

        ax.set_xlim(0, 49)
        ax.set_ylim(*YLIMS[r])
        ax.set_xticks([10, 20, 30, 40])
        ax.set_yticks(YTICKS[r])
        ax.set_axisbelow(False)
        ax.grid(True, color='black', linestyle=(0, (1, 5)), linewidth=1.2)
        ax.tick_params(axis='x', length=0, labelbottom=False)
        if c == 0:
            labels = [f'{t:.{YDEC[r]}f}'.replace('-', '\u2212') for t in YTICKS[r]]
            ax.set_yticklabels(labels)
            ax.tick_params(axis='y', length=2.5, width=1, pad=18, labelsize=FS)
        else:
            ax.tick_params(axis='y', length=0, labelleft=False)
        for s in ax.spines.values():
            s.set_linewidth(1.5)

        if r == 0:
            fig.text((left + 46.15) / W, 1 - 17.5 / H, SHOCKS[c], ha='center', va='center', fontsize=FS)
    fig.text(12.5 / W, 1 - (top + 66.7) / H, var, ha='left', va='center', fontsize=FS)

fig.savefig('out.png', dpi=100)
plt.close(fig)
